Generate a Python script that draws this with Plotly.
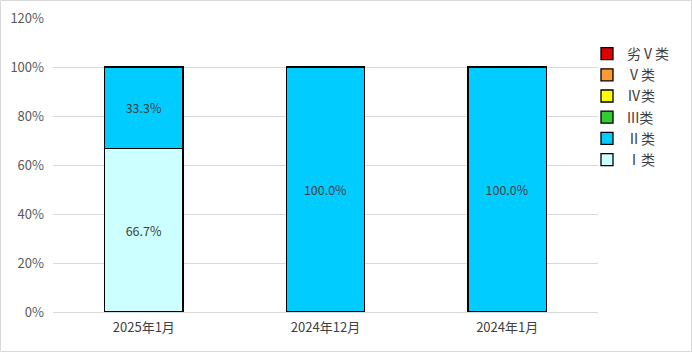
import plotly.graph_objects as go

categories = ["2025年1月", "2024年12月", "2024年1月"]
series_names = ["Ⅰ类", "Ⅱ类", "III类", "Ⅳ类", "Ⅴ类", "劣Ⅴ类"]
series_colors = ["#CCFFFF", "#00CCFF", "#33CC33", "#FFFF00", "#FF9933", "#E00000"]
values_I = [0.667, 0.0, 0.0]
values_II = [0.333, 1.0, 1.0]
values_III = [0.0, 0.0, 0.0]
values_IV = [0.0, 0.0, 0.0]
values_V = [0.0, 0.0, 0.0]
values_worseV = [0.0, 0.0, 0.0]
all_values = [values_I, values_II, values_III, values_IV, values_V, values_worseV]
y_ticks = [0, 0.2, 0.4, 0.6, 0.8, 1.0, 1.2]

W, H = 692, 352
L, R, T, B = 53, 94, 18, 40
pw, ph = W - L - R, H - T - B

fig = go.Figure()
for name, color, vals in zip(series_names, series_colors, all_values):
    yv = [v if v > 0 else None for v in vals]
    txt = [f"{v*100:.1f}%" if v > 0 else "" for v in vals]
    fig.add_trace(go.Bar(
        x=categories, y=yv, name=name, text=txt,
        textposition="inside", insidetextanchor="middle",
        textfont=dict(color="#404040", size=12.5, family="Noto Sans CJK SC"),
        marker=dict(color=color, line=dict(color="#000000", width=1.3)),
        hoverinfo="skip",
    ))

fig.update_layout(
    barmode="stack",
    bargap=0.57,
    width=W, height=H,
    margin=dict(l=L, r=R, t=T, b=B, autoexpand=False),
    paper_bgcolor="white", plot_bgcolor="white",
    font=dict(family="Noto Sans CJK SC", size=13, color="#595959"),
    uniformtext=dict(mode=False),
    legend=dict(
        x=(587 - L) / pw, y=(312 - 38) / ph, xanchor="left", yanchor="top",
        traceorder="reversed", font=dict(size=14, color="#404040"),
        bgcolor="rgba(0,0,0,0)", itemwidth=30,
    ),
    showlegend=True,
    xaxis=dict(showgrid=False, showline=False, ticks="", ticklabelstandoff=6,
               tickfont=dict(size=13, color="#404040")),
    yaxis=dict(
        range=[0, 1.2], tickvals=y_ticks, tickformat=".0%",
        showgrid=True, gridcolor="#D9D9D9", gridwidth=1,
        zeroline=True, zerolinecolor="#D9D9D9", zerolinewidth=1,
        showline=False, ticks="", ticklabelstandoff=8,
        tickfont=dict(size=13, color="#595959"),
    ),
    shapes=[dict(
        type="rect", xref="paper", yref="paper",
        x0=(0.5 - L) / pw, x1=(W - 0.5 - L) / pw,
        y0=(312 - (H - 0.5)) / ph, y1=(312 - 0.5) / ph,
        line=dict(color="#D9D9D9", width=1), fillcolor="rgba(0,0,0,0)", layer="below",
    )],
)

fig.write_html("out.html")
